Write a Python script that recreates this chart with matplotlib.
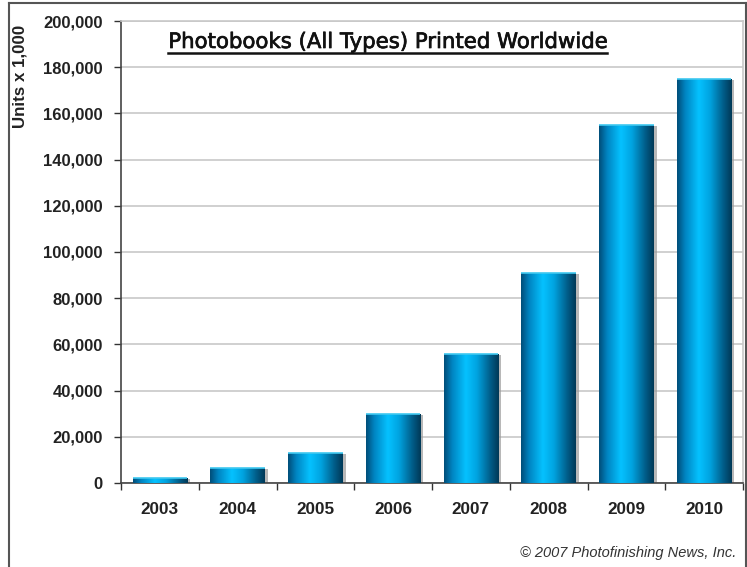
import numpy as np
import matplotlib
matplotlib.use("Agg")
import matplotlib.pyplot as plt
from matplotlib.colors import LinearSegmentedColormap
from matplotlib.lines import Line2D
from matplotlib import transforms
import matplotlib.patheffects as pe

plt.rcParams['font.family'] = ['Liberation Sans', 'DejaVu Sans']

# Photobook units printed per year (thousands)
years = ['2003', '2004', '2005', '2006', '2007', '2008', '2009', '2010']
units = [2200, 6500, 13000, 30000, 56000, 91000, 155000, 175000]

title = 'Photobooks (All Types) Printed Worldwide'
ylabel = 'Units x 1,000'
credit = '\u00a9 2007 Photofinishing News, Inc.'
yticks = list(range(0, 200001, 20000))

W, H, DPI = 747, 567, 100
fig = plt.figure(figsize=(W / DPI, H / DPI), dpi=DPI)
fig.patch.set_facecolor('white')

left, right, top, bottom = 121, 743, 21, 483
ax = fig.add_axes([left / W, 1 - bottom / H, (right - left) / W, (bottom - top) / H])

x = np.arange(len(years))
width = 0.70

# cylinder-style shading across each bar
cyl = LinearSegmentedColormap.from_list('cyl', [
    (0.00, (0.00, 0.30, 0.47)),
    (0.15, (0.00, 0.52, 0.76)),
    (0.40, (0.02, 0.76, 1.00)),
    (0.60, (0.00, 0.64, 0.88)),
    (0.85, (0.00, 0.36, 0.53)),
    (1.00, (0.00, 0.22, 0.34)),
])
grad = np.linspace(0, 1, 256).reshape(1, -1)

# soft drop shadow to the right of each bar
shadow_tf = ax.transData + transforms.ScaledTranslation(3 / DPI, -1 / DPI, fig.dpi_scale_trans)
ax.bar(x, units, width=width, color='#9a9a9a', alpha=0.7, zorder=2,
       transform=shadow_tf, linewidth=0)

bars = ax.bar(x, units, width=width, color='none', linewidth=0, zorder=3)
for rect in bars:
    x0 = rect.get_x()
    h = rect.get_height()
    im = ax.imshow(grad, cmap=cyl, aspect='auto', interpolation='bicubic',
                   extent=(x0, x0 + rect.get_width(), 0, h), zorder=3)
    im.set_clip_path(rect)
    ax.plot([x0, x0 + rect.get_width()], [h, h], color='#3fc8f0', lw=1.2, zorder=4,
            solid_capstyle='butt')

ax.set_xlim(-0.5, len(years) - 0.5)
ax.set_ylim(0, 200000)
ax.set_yticks(yticks)
ax.set_yticklabels([f'{v:,}' for v in yticks])
ax.set_xticks(x)
ax.set_xticklabels(years)
ax.set_xticks(np.arange(len(years) + 1) - 0.5, minor=True)

ax.yaxis.grid(True, color='#c8c8c8', lw=1.2, zorder=0)
ax.set_axisbelow(True)

ax.tick_params(axis='y', length=5, width=1, color='#333333', pad=8,
               labelsize=12, labelcolor='#222222', direction='out')
ax.tick_params(axis='x', which='major', length=0, pad=14,
               labelsize=12.3, labelcolor='#222222')
ax.tick_params(axis='x', which='minor', length=5, width=1, color='#333333', direction='out')
for lab in ax.get_xticklabels() + ax.get_yticklabels():
    lab.set_fontweight('bold')

for side in ('left', 'bottom'):
    ax.spines[side].set_color('#444444')
    ax.spines[side].set_linewidth(1.2)
for side in ('top', 'right'):
    ax.spines[side].set_color('#c8c8c8')
    ax.spines[side].set_linewidth(1.2)

# underlined title inside the plot area
t = fig.text(387.5 / W, 1 - 42 / H, title, ha='center', va='center', fontsize=15.3,
             family=['DejaVu Sans'], color='#111111', zorder=5,
             path_effects=[pe.withStroke(linewidth=0.5, foreground='#111111')])
fig.canvas.draw()
bb = t.get_window_extent()
fig.add_artist(Line2D([bb.x0 / W, bb.x1 / W], [1 - 53 / H, 1 - 53 / H],
                      transform=fig.transFigure, color='#111111', lw=1.8))

fig.text(20 / W, 1 - 76 / H, ylabel, rotation=90, ha='center', va='center',
         fontsize=12.2, fontweight='bold', color='#222222')

fig.text(736 / W, 1 - 553 / H, credit, ha='right', va='center', fontsize=10.5,
         style='italic', color='#333333')

# outer frame of the graphic
frame_kw = dict(transform=fig.transFigure, color='#555555', lw=1.5)
fig.add_artist(Line2D([9 / W, 9 / W], [0, 1 - 3 / H], **frame_kw))
fig.add_artist(Line2D([9 / W, 746 / W], [1 - 3 / H, 1 - 3 / H], **frame_kw))
fig.add_artist(Line2D([746 / W, 746 / W], [0, 1 - 3 / H], **frame_kw))

fig.savefig('out.png', dpi=DPI, facecolor='white')
